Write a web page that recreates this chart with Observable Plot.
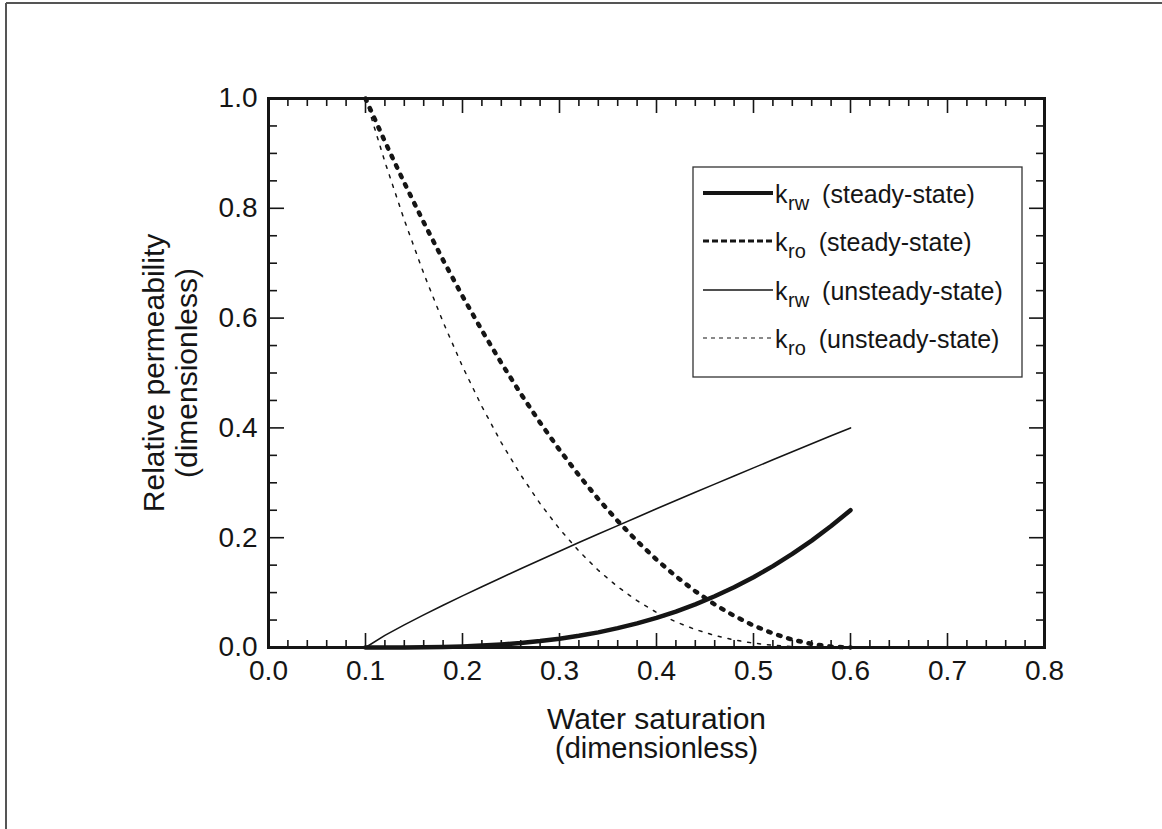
<!DOCTYPE html>
<html>
<head>
<meta charset="utf-8">
<script src="https://cdn.jsdelivr.net/npm/d3@7"></script>
<script src="https://cdn.jsdelivr.net/npm/@observablehq/plot@0.6"></script>
<style>
  html, body { margin: 0; padding: 0; background: #fff; overflow: hidden; }
  #chart { position: relative; width: 1162px; height: 829px; }
</style>
</head>
<body>
<div id="chart"></div>
<script>
// Water saturation (dimensionless)
const sw = [0.10,0.12,0.14,0.16,0.18,0.20,0.22,0.24,0.26,0.28,0.30,0.32,0.34,0.36,0.38,0.40,0.42,0.44,0.46,0.48,0.50,0.52,0.54,0.56,0.58,0.60];
// Relative permeability series
const krwSteady   = [0,0,0.0001,0.0004,0.001,0.002,0.0035,0.0055,0.0082,0.0117,0.016,0.0213,0.0276,0.0352,0.0439,0.054,0.0655,0.0786,0.0933,0.1097,0.128,0.1482,0.1704,0.1947,0.2212,0.25];
const kroSteady   = [1,0.9216,0.8464,0.7744,0.7056,0.64,0.5776,0.5184,0.4624,0.4096,0.36,0.3136,0.2704,0.2304,0.1936,0.16,0.1296,0.1024,0.0784,0.0576,0.04,0.0256,0.0144,0.0064,0.0016,0];
const krwUnsteady = [0,0.0221,0.0412,0.0594,0.0769,0.094,0.1108,0.1272,0.1435,0.1595,0.1754,0.1911,0.2066,0.222,0.2374,0.2526,0.2677,0.2827,0.2976,0.3124,0.3272,0.3419,0.3566,0.3711,0.3856,0.4];
const kroUnsteady = [1,0.8847,0.7787,0.6815,0.5927,0.512,0.439,0.3732,0.3144,0.2621,0.216,0.1756,0.1406,0.1106,0.0852,0.064,0.0467,0.0328,0.022,0.0138,0.008,0.0041,0.0017,0.0005,0.0001,0];

// Tick values
const majorX = [0,0.1,0.2,0.3,0.4,0.5,0.6,0.7,0.8];
const minorX = [0.02,0.04,0.06,0.08,0.12,0.14,0.16,0.18,0.22,0.24,0.26,0.28,0.32,0.34,0.36,0.38,0.42,0.44,0.46,0.48,0.52,0.54,0.56,0.58,0.62,0.64,0.66,0.68,0.72,0.74,0.76,0.78];
const majorY = [0,0.2,0.4,0.6,0.8,1.0];
const minorY = [0.05,0.1,0.15,0.25,0.3,0.35,0.45,0.5,0.55,0.65,0.7,0.75,0.85,0.9,0.95];

// Text
const xTitle = ["Water saturation", "(dimensionless)"];
const yTitle = "Relative permeability\n(dimensionless)";
const legendItems = [
  {sub: "rw", text: "(steady-state)"},
  {sub: "ro", text: "(steady-state)"},
  {sub: "rw", text: "(unsteady-state)"},
  {sub: "ro", text: "(unsteady-state)"}
];

const rows = sw.map((s, i) => ({sw: s, krwS: krwSteady[i], kroS: kroSteady[i], krwU: krwUnsteady[i], kroU: kroUnsteady[i]}));

const W = 1162, H = 829;
const mL = 268, mR = 118, mT = 98, mB = 182;
const fw = W - mL - mR, fh = H - mT - mB;
const ink = "#151515";
const font = "'Liberation Sans', Arial, Helvetica, sans-serif";
const blank = () => "";

const plot = Plot.plot({
  width: W, height: H,
  marginLeft: mL, marginRight: mR, marginTop: mT, marginBottom: mB,
  x: {domain: [0, 0.8]},
  y: {domain: [0, 1]},
  style: {fontFamily: font, fontSize: "28px", background: "#fff", color: ink},
  marks: [
    // curves
    Plot.line(rows, {x: "sw", y: "krwU", stroke: ink, strokeWidth: 1.6}),
    Plot.line(rows, {x: "sw", y: "kroU", stroke: ink, strokeWidth: 1.5, strokeDasharray: "3,7"}),
    Plot.line(rows, {x: "sw", y: "kroS", stroke: ink, strokeWidth: 4.5, strokeDasharray: "2.5,8", strokeLinecap: "round"}),
    Plot.line(rows, {x: "sw", y: "krwS", stroke: ink, strokeWidth: 4.5}),
    // inward ticks, bottom
    Plot.axisX({ticks: majorX, anchor: "top", dy: fh, tickSize: 15, tickFormat: blank, label: null, strokeWidth: 1.6}),
    Plot.axisX({ticks: minorX, anchor: "top", dy: fh, tickSize: 8, tickFormat: blank, label: null, strokeWidth: 1.6}),
    // inward ticks, top
    Plot.axisX({ticks: majorX, anchor: "bottom", dy: -fh, tickSize: 15, tickFormat: blank, label: null, strokeWidth: 1.6}),
    Plot.axisX({ticks: minorX, anchor: "bottom", dy: -fh, tickSize: 8, tickFormat: blank, label: null, strokeWidth: 1.6}),
    // inward ticks, left
    Plot.axisY({ticks: majorY, anchor: "right", dx: -fw, tickSize: 15, tickFormat: blank, label: null, strokeWidth: 1.6}),
    Plot.axisY({ticks: minorY, anchor: "right", dx: -fw, tickSize: 8, tickFormat: blank, label: null, strokeWidth: 1.6}),
    // inward ticks, right
    Plot.axisY({ticks: majorY, anchor: "left", dx: fw, tickSize: 15, tickFormat: blank, label: null, strokeWidth: 1.6}),
    Plot.axisY({ticks: minorY, anchor: "left", dx: fw, tickSize: 8, tickFormat: blank, label: null, strokeWidth: 1.6}),
    // tick labels
    Plot.axisX({ticks: majorX, anchor: "bottom", tickSize: 0, tickPadding: 13, tickFormat: d3.format(".1f"), label: null, fontSize: 28}),
    Plot.axisY({ticks: majorY, anchor: "left", tickSize: 0, tickPadding: 11, tickFormat: d3.format(".1f"), label: null, fontSize: 28}),
    // axis titles
    Plot.text([xTitle[0]], {frameAnchor: "bottom", dy: 81, textAnchor: "middle", lineAnchor: "bottom", fontSize: 30, fill: ink}),
    Plot.text([xTitle[1]], {frameAnchor: "bottom", dy: 110, textAnchor: "middle", lineAnchor: "bottom", fontSize: 29, fill: ink}),
    Plot.text([yTitle], {frameAnchor: "left", dx: -72, rotate: -90, textAnchor: "middle", lineAnchor: "bottom", lineHeight: 1.07, fontSize: 30, fill: ink}),
    Plot.frame({stroke: ink, strokeWidth: 3})
  ]
});

document.getElementById("chart").appendChild(plot);

// Legend and page border overlay
const svg = d3.select(plot);
const lg = svg.append("g").attr("font-family", font).attr("fill", ink).attr("text-anchor", "start");
lg.append("rect").attr("x", 693).attr("y", 167).attr("width", 329).attr("height", 210)
  .attr("fill", "#fff").attr("stroke", "#333").attr("stroke-width", 1.3);
const rowY = [193, 241, 290, 338];
const styles = [
  {w: 4, dash: null},
  {w: 3.2, dash: "6,3"},
  {w: 1.5, dash: null},
  {w: 1.2, dash: "4,4"}
];
legendItems.forEach((it, i) => {
  const y = rowY[i];
  lg.append("line").attr("x1", 703).attr("x2", 773).attr("y1", y).attr("y2", y)
    .attr("stroke", ink).attr("stroke-width", styles[i].w)
    .attr("stroke-dasharray", styles[i].dash);
  const t = lg.append("text").attr("x", 775).attr("y", y + 10).attr("font-size", 25).attr("text-anchor", "start");
  t.append("tspan").text("k");
  t.append("tspan").attr("font-size", 20).attr("dy", 7).attr("dx", 0.5).text(it.sub);
  t.append("tspan").attr("font-size", 25).attr("dy", -7).attr("dx", 13).text(it.text);
});
// page border (left and top)
svg.append("line").attr("x1", 6).attr("x2", 6).attr("y1", 3).attr("y2", H).attr("stroke", "#555").attr("stroke-width", 2);
svg.append("line").attr("x1", 6).attr("x2", W).attr("y1", 3).attr("y2", 3).attr("stroke", "#555").attr("stroke-width", 2);
</script>
</body>
</html>
